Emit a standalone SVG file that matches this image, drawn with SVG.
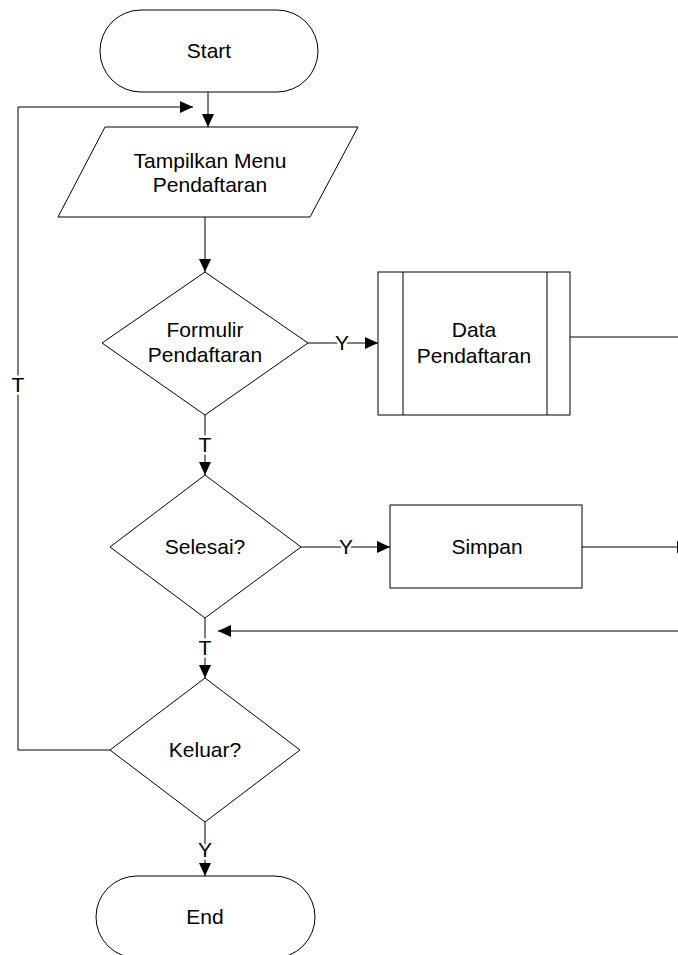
<svg xmlns="http://www.w3.org/2000/svg" width="678" height="955" viewBox="0 0 678 955">
<style>
.shape{fill:#fff;stroke:#000;stroke-width:1}
.t{font-family:"Liberation Sans",Arial,sans-serif;font-size:21px;fill:#000;text-anchor:middle}
.c{fill:none;stroke:#000;stroke-width:1}
.lbl{font-family:"Liberation Sans",Arial,sans-serif;font-size:21px;fill:#000;text-anchor:middle;stroke:#fff;stroke-width:5px;paint-order:stroke;stroke-linejoin:round}
</style>
<defs>
<marker id="ah" markerUnits="userSpaceOnUse" markerWidth="14" markerHeight="13" refX="13" refY="6" orient="auto">
<path d="M0,0 L13,6 L0,12 z" fill="#000"/>
</marker>
</defs>
<rect width="678" height="955" fill="#fff"/>
<g id="connectors">
<path class="c" d="M208,92 V127" marker-end="url(#ah)"/>
<path class="c" d="M205,217 V272" marker-end="url(#ah)"/>
<path class="c" d="M308,343 H378" marker-end="url(#ah)"/>
<text class="lbl" x="342" y="350">Y</text>
<path class="c" d="M570,337 H678"/>
<path class="c" d="M205,415 V475" marker-end="url(#ah)"/>
<text class="lbl" x="205" y="452">T</text>
<path class="c" d="M301,547 H390" marker-end="url(#ah)"/>
<text class="lbl" x="346" y="554">Y</text>
<path class="c" d="M582,547 H690" marker-end="url(#ah)"/>
<path class="c" d="M678,631 H218" marker-end="url(#ah)"/>
<path class="c" d="M205,618 V678" marker-end="url(#ah)"/>
<text class="lbl" x="205" y="655">T</text>
<path class="c" d="M205,822 V876" marker-end="url(#ah)"/>
<text class="lbl" x="205" y="857">Y</text>
<path class="c" d="M110,750 H18 V107 H193" marker-end="url(#ah)"/>
<text class="lbl" x="18" y="392">T</text>
</g>
<g id="start">
<rect class="shape" x="100" y="10" width="218" height="82" rx="41" ry="41"/>
<text class="t" x="209" y="58">Start</text>
</g>
<g id="tampilkan">
<polygon class="shape" points="105,127 358,127 310,217 58,217"/>
<text class="t" x="210" y="168">Tampilkan Menu</text>
<text class="t" x="210" y="192">Pendaftaran</text>
</g>
<g id="formulir">
<polygon class="shape" points="205,272 308,343 205,415 102,343"/>
<text class="t" x="205" y="337">Formulir</text>
<text class="t" x="205" y="362">Pendaftaran</text>
</g>
<g id="data">
<rect class="shape" x="378" y="272" width="192" height="143"/>
<line class="c" x1="403" y1="272" x2="403" y2="415"/>
<line class="c" x1="547" y1="272" x2="547" y2="415"/>
<text class="t" x="474" y="337">Data</text>
<text class="t" x="474" y="363">Pendaftaran</text>
</g>
<g id="selesai">
<polygon class="shape" points="205,475 301,547 205,618 110,547"/>
<text class="t" x="205" y="554">Selesai?</text>
</g>
<g id="simpan">
<rect class="shape" x="390" y="505" width="192" height="83"/>
<text class="t" x="487" y="554">Simpan</text>
</g>
<g id="keluar">
<polygon class="shape" points="205,678 300,750 205,822 110,750"/>
<text class="t" x="205" y="757">Keluar?</text>
</g>
<g id="end">
<rect class="shape" x="96" y="876" width="219" height="82" rx="41" ry="41"/>
<text class="t" x="205" y="924">End</text>
</g>
</svg>
